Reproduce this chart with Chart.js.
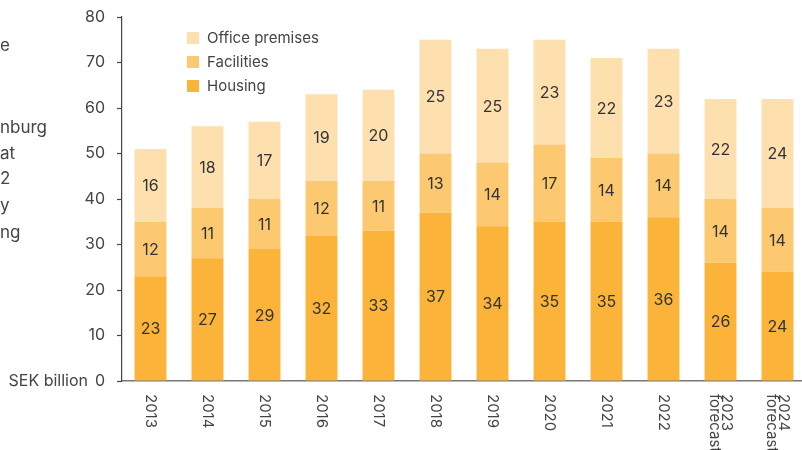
<!DOCTYPE html>
<html>
<head>
<meta charset="utf-8">
<script src="https://cdn.jsdelivr.net/npm/chart.js@4/dist/chart.umd.min.js"></script>
<style>
  html, body { margin: 0; padding: 0; background: #fff; }
  #wrap { position: relative; width: 802px; height: 450px; overflow: hidden; font-family: Inter, "DejaVu Sans", sans-serif; color: #444; }
  #box { position: absolute; left: 0; top: 0; width: 812px; height: 450px; }
  .frag { position: absolute; left: 0; font-size: 17px; line-height: 20px; color: #444; }
  #legend { position: absolute; left: 187px; top: 29px; font-size: 15px; }
  #legend div { height: 24px; line-height: 18px; display: flex; align-items: flex-start; }
  #legend span.sw { display: inline-block; width: 12px; height: 12px; margin: 3px 8px 0 0; }
</style>
</head>
<body>
<div id="wrap">
  <div id="box"><canvas id="chart"></canvas></div>
  <div class="frag" style="top:35px">e</div>
  <div class="frag" style="top:117px">nburg</div>
  <div class="frag" style="top:143px">at</div>
  <div class="frag" style="top:168px">2</div>
  <div class="frag" style="top:195px">y</div>
  <div class="frag" style="top:222px">ng</div>
  <div id="legend"></div>
</div>
<script>
const years = [['2013'], ['2014'], ['2015'], ['2016'], ['2017'], ['2018'], ['2019'], ['2020'], ['2021'], ['2022'], ['2023', 'forecast'], ['2024', 'forecast']];
const housing = [23, 27, 29, 32, 33, 37, 34, 35, 35, 36, 26, 24];
const facilities = [12, 11, 11, 12, 11, 13, 14, 17, 14, 14, 14, 14];
const offices = [16, 18, 17, 19, 20, 25, 25, 23, 22, 23, 22, 24];
const yTicks = [0, 10, 20, 30, 40, 50, 60, 70, 80];
const unitLabel = 'SEK billion';

const colHousing = '#FBB33A';
const colFacilities = '#FCC870';
const colOffices = '#FDE0AE';
const textCol = '#444';

// legend, top row first
const legendItems = [['Office premises', colOffices], ['Facilities', colFacilities], ['Housing', colHousing]];
document.getElementById('legend').innerHTML = legendItems
  .map(l => '<div><span class="sw" style="background:' + l[1] + '"></span>' + l[0] + '</div>').join('');

const valueLabels = {
  id: 'valueLabels',
  afterDatasetsDraw(chart) {
    const ctx = chart.ctx;
    ctx.save();
    ctx.font = '16px Inter, sans-serif';
    ctx.fillStyle = '#333';
    ctx.textAlign = 'center';
    ctx.textBaseline = 'middle';
    chart.data.datasets.forEach((ds, i) => {
      chart.getDatasetMeta(i).data.forEach((bar, j) => {
        ctx.fillText(ds.data[j], bar.x, (bar.y + bar.base) / 2 + 1);
      });
    });
    ctx.restore();
  }
};

// x labels rotated clockwise (read top to bottom), plus unit label at 0
const axisText = {
  id: 'axisText',
  afterDraw(chart) {
    const ctx = chart.ctx;
    const x = chart.scales.x;
    const y = chart.scales.y;
    ctx.save();
    ctx.font = '15px Inter, sans-serif';
    ctx.fillStyle = textCol;
    ctx.textAlign = 'left';
    ctx.textBaseline = 'middle';
    years.forEach((lines, i) => {
      const px = x.getPixelForTick(i);
      const lh = 12;
      const off = (lines.length - 1) * lh / 2;
      ctx.save();
      ctx.translate(px + off, x.top + 13);
      ctx.rotate(Math.PI / 2);
      lines.forEach((t, k) => ctx.fillText(t, 0, k * lh));
      ctx.restore();
    });
    ctx.font = '16px Inter, sans-serif';
    ctx.textAlign = 'right';
    ctx.fillText(unitLabel, 88, y.getPixelForValue(0));
    ctx.restore();
  }
};

new Chart(document.getElementById('chart'), {
  type: 'bar',
  data: {
    labels: years.map(l => l.join(' ')),
    datasets: [
      { label: 'Housing', data: housing, backgroundColor: colHousing },
      { label: 'Facilities', data: facilities, backgroundColor: colFacilities },
      { label: 'Office premises', data: offices, backgroundColor: colOffices }
    ]
  },
  options: {
    responsive: true,
    maintainAspectRatio: false,
    animation: false,
    layout: { padding: { top: 17, right: 6, left: 0, bottom: 0 } },
    plugins: { legend: { display: false }, tooltip: { enabled: false } },
    datasets: { bar: { barPercentage: 0.56, categoryPercentage: 1 } },
    scales: {
      x: {
        stacked: true,
        grid: { display: false, drawTicks: false },
        border: { display: true, color: '#777', width: 1.5 },
        ticks: { display: false },
        afterFit(s) { s.height = 69; s.paddingLeft = 0; s.paddingRight = 0; }
      },
      y: {
        stacked: true,
        min: 0,
        max: 80,
        afterBuildTicks(s) { s.ticks = yTicks.map(v => ({ value: v })); },
        grid: { drawOnChartArea: false, drawTicks: true, tickLength: 5, color: '#444', tickWidth: 1.2 },
        border: { display: true, color: '#444', width: 1.2 },
        ticks: {
          padding: 12,
          color: textCol,
          font: { family: 'Inter, sans-serif', size: 16 }
        },
        afterFit(s) { s.width = 122; s.paddingTop = 0; s.paddingBottom = 0; }
      }
    }
  },
  plugins: [valueLabels, axisText]
});
</script>
</body>
</html>
